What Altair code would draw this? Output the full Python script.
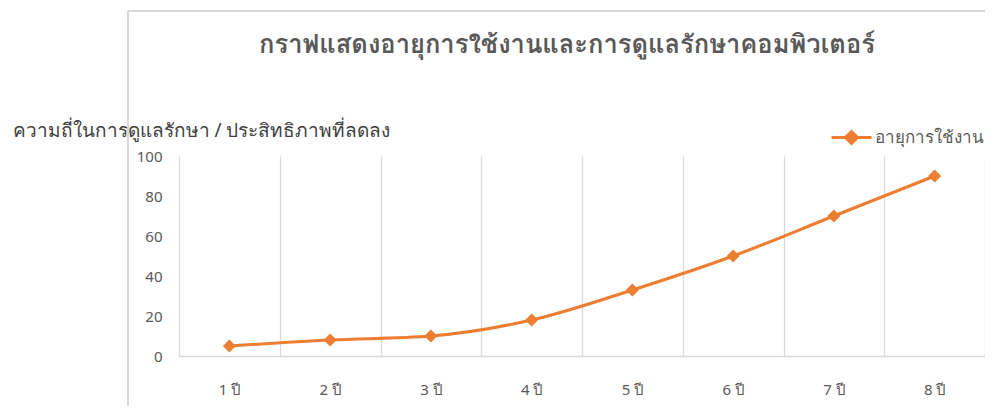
import altair as alt
import pandas as pd

years = ["1 ปี", "2 ปี", "3 ปี", "4 ปี", "5 ปี", "6 ปี", "7 ปี", "8 ปี"]
values = [5, 8, 10, 18, 33, 50, 70, 90]
series_name = "อายุการใช้งาน"
title_text = "กราฟแสดงอายุการใช้งานและการดูแลรักษาคอมพิวเตอร์"
y_title = "ความถี่ในการดูแลรักษา / ประสิทธิภาพที่ลดลง"

ORANGE = "#ED7D31"
GREY = "#595959"
FONT = "Noto Sans"

df = pd.DataFrame({"year": years, "value": values, "series": [series_name] * len(years)})

x_enc = alt.X(
    "year:O",
    sort=years,
    scale=alt.Scale(type="band", paddingInner=0, paddingOuter=0),
    axis=alt.Axis(
        title=None, labelAngle=0, labelColor=GREY, labelFontSize=15, labelFont=FONT,
        labelPadding=26, ticks=False, grid=True, gridColor="#d9d9d9", gridWidth=1.3,
        domainColor="#d9d9d9", domainWidth=1.3, tickBand="extent",
    ),
)
y_enc = alt.Y(
    "value:Q",
    scale=alt.Scale(domain=[0, 100], nice=False),
    axis=alt.Axis(
        values=[0, 20, 40, 60, 80, 100], grid=False, domain=False, ticks=False,
        labelColor=GREY, labelFontSize=15, labelFont=FONT, labelPadding=17,
        title=y_title, titleAngle=0, titleAlign="left", titleBaseline="alphabetic",
        titleX=-167, titleY=-20, titleFont=FONT, titleFontSize=19, titleFontWeight="normal",
        titleColor="#404040",
    ),
)
legend_path = "M-2,0H2M0,-0.6L0.6,0L0,0.6L-0.6,0Z"
color_enc = alt.Color(
    "series:N",
    scale=alt.Scale(range=[ORANGE]),
    legend=alt.Legend(
        title=None, orient="none", legendX=661, legendY=-30,
        symbolType=legend_path, symbolSize=400, symbolStrokeWidth=3,
        symbolFillColor=ORANGE, symbolStrokeColor=ORANGE,
        labelFont=FONT, labelFontSize=17, labelColor=GREY, labelOffset=12,
    ),
)

base = alt.Chart(df)
line = base.mark_line(interpolate="monotone", strokeWidth=3).encode(x=x_enc, y=y_enc, color=color_enc)
pts = base.mark_point(shape="diamond", filled=True, size=170, opacity=1).encode(x=x_enc, y=y_enc, color=color_enc)

frame_left = base.mark_rule(color="#d9d9d9", strokeWidth=1.3).encode(
    x=alt.value(-51), y=alt.value(-145), y2=alt.value(260)
)
frame_top = base.mark_rule(color="#d9d9d9", strokeWidth=1.3).encode(
    x=alt.value(-51), x2=alt.value(820), y=alt.value(-145)
)

chart = alt.layer(frame_left, frame_top, line, pts).properties(
    width=806,
    height=200,
    autosize=alt.AutoSizeParams(type="none"),
    padding={"left": 171, "top": 148, "right": 0, "bottom": 50},
    title=alt.TitleParams(
        title_text, font="Garuda, Loma, Noto Sans", fontSize=25.5, fontWeight="bold", color=GREY,
        anchor="middle", dx=-15, dy=68, offset=0, baseline="alphabetic",
    ),
).configure_view(stroke=None)

chart.save("out.html", embed_options={"renderer": "svg", "actions": False})
